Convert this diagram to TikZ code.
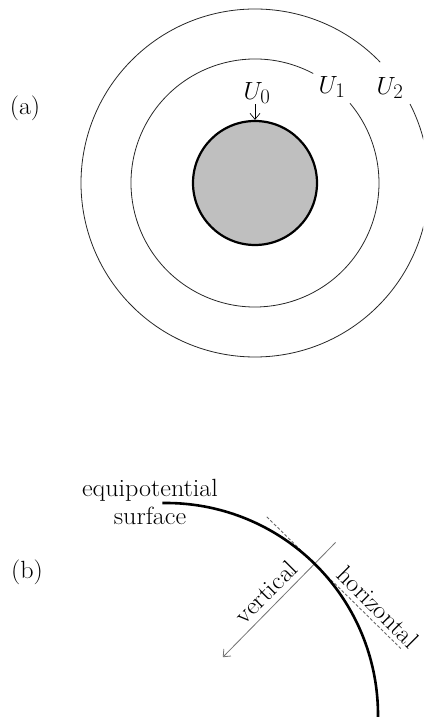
\documentclass[tikz,border=0pt]{standalone}
\usepackage{fontspec}
\setmainfont{Latin Modern Roman}[FakeStretch=1.05]
\usetikzlibrary{arrows.meta}
\begin{document}
\begin{tikzpicture}[x=1pt,y=1pt,
  thincirc/.style={line width=0.8pt, draw=black!85},
  lbl/.style={inner sep=0pt, font=\fontsize{24.88}{28}\selectfont},
  barb/.style={-{Straight Barb[length=6pt,width=10pt]}},
  greyline/.style={line width=0.8pt, draw=black!55},
]
\useasboundingbox (0,0) rectangle (423,717);
\clip (0,0) rectangle (423,717);
% ---------- (a) ----------
\coordinate (c) at (255,534);
\node[circle, draw, line width=2.2pt, fill=black!25, minimum size=124pt, inner sep=0pt] (disk) at (c) {};
\draw[thincirc] ([shift={(62:124)}]c) arc[start angle=62, end angle=400, radius=124];
\draw[thincirc] ([shift={(44:174)}]c) arc[start angle=44, end angle=387, radius=174];
\node[lbl] (a) at (25,609) {(a)};
\node[lbl] (u0) at (257,624) {$U_0$};
\node[lbl] (u1) at (332,630) {$U_1$};
\node[lbl] (u2) at (390,629) {$U_2$};
\draw[barb, line width=0.7pt] (u0.south -| disk.north) -- (disk.north);
% ---------- (b) ----------
\coordinate (o) at (166,2);
\coordinate (P) at ([shift={(45.5:212)}]o);
\coordinate (t1) at ([shift={(135.5:67)}]P);
\coordinate (t2) at ([shift={(-44.5:121)}]P);
\coordinate (v1) at ([shift={(45.5:242)}]o);
\coordinate (v2) at ([shift={(45.5:81)}]o);
\draw[line width=0.9pt, draw=black!60, dash pattern=on 3pt off 2pt] (t1) -- (t2);
\draw[greyline, barb] (v1) -- (v2);
\draw[line width=2.6pt] ([shift={(91:212)}]o) arc[start angle=91, end angle=-1, radius=212];
\node[lbl] (b) at (27,145) {(b)};
\node[lbl, align=center] (eq) at (150,215) {equipotential\\surface};
\node[lbl, rotate=45] (vert) at (266,125) {vertical};
\node[lbl, rotate=-45] (hor) at (378,110) {horizontal};
\end{tikzpicture}
\end{document}
